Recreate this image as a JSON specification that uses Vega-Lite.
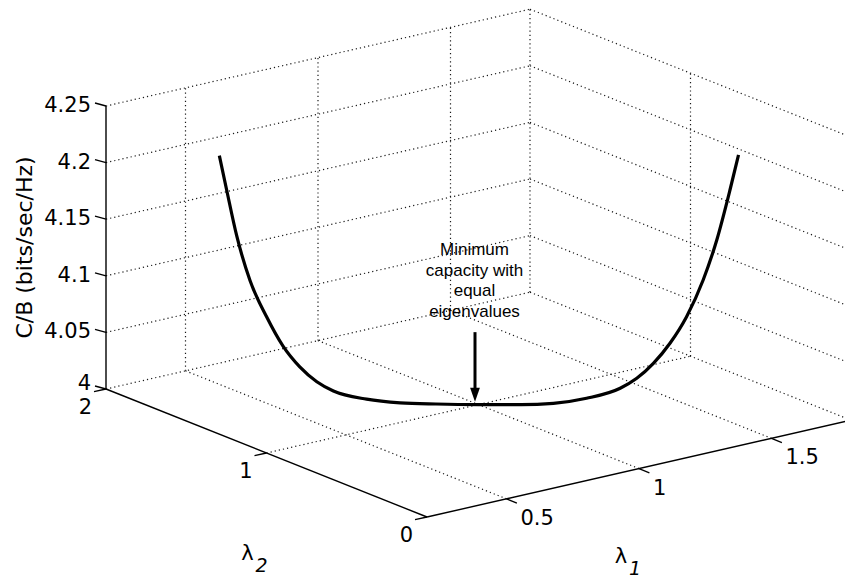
{
  "$schema": "https://vega.github.io/schema/vega-lite/v6.json",
  "width": 845,
  "height": 580,
  "padding": 0,
  "autosize": {"type": "none"},
  "background": "white",
  "config": {"view": {"stroke": null}},
  "datasets": {
    "segs": [
      {"k": "g", "a1": 0.5, "a2": 0, "az": 4, "b1": 0.5, "b2": 2, "bz": 4},
      {"k": "g", "a1": 1, "a2": 0, "az": 4, "b1": 1, "b2": 2, "bz": 4},
      {"k": "g", "a1": 1.5, "a2": 0, "az": 4, "b1": 1.5, "b2": 2, "bz": 4},
      {"k": "g", "a1": 0.2, "a2": 1, "az": 4, "b1": 1.8, "b2": 1, "bz": 4},
      {"k": "g", "a1": 0.2, "a2": 2, "az": 4, "b1": 1.8, "b2": 2, "bz": 4},
      {"k": "g", "a1": 0.2, "a2": 2, "az": 4.05, "b1": 1.8, "b2": 2, "bz": 4.05},
      {"k": "g", "a1": 0.2, "a2": 2, "az": 4.1, "b1": 1.8, "b2": 2, "bz": 4.1},
      {"k": "g", "a1": 0.2, "a2": 2, "az": 4.15, "b1": 1.8, "b2": 2, "bz": 4.15},
      {"k": "g", "a1": 0.2, "a2": 2, "az": 4.2, "b1": 1.8, "b2": 2, "bz": 4.2},
      {"k": "g", "a1": 0.2, "a2": 2, "az": 4.25, "b1": 1.8, "b2": 2, "bz": 4.25},
      {"k": "g", "a1": 0.5, "a2": 2, "az": 4, "b1": 0.5, "b2": 2, "bz": 4.25},
      {"k": "g", "a1": 1, "a2": 2, "az": 4, "b1": 1, "b2": 2, "bz": 4.25},
      {"k": "g", "a1": 1.5, "a2": 2, "az": 4, "b1": 1.5, "b2": 2, "bz": 4.25},
      {"k": "g", "a1": 1.8, "a2": 2, "az": 4, "b1": 1.8, "b2": 0, "bz": 4},
      {"k": "g", "a1": 1.8, "a2": 2, "az": 4.05, "b1": 1.8, "b2": 0, "bz": 4.05},
      {"k": "g", "a1": 1.8, "a2": 2, "az": 4.1, "b1": 1.8, "b2": 0, "bz": 4.1},
      {"k": "g", "a1": 1.8, "a2": 2, "az": 4.15, "b1": 1.8, "b2": 0, "bz": 4.15},
      {"k": "g", "a1": 1.8, "a2": 2, "az": 4.2, "b1": 1.8, "b2": 0, "bz": 4.2},
      {"k": "g", "a1": 1.8, "a2": 2, "az": 4.25, "b1": 1.8, "b2": 0, "bz": 4.25},
      {"k": "g", "a1": 1.8, "a2": 0, "az": 4, "b1": 1.8, "b2": 0, "bz": 4.25},
      {"k": "g", "a1": 1.8, "a2": 1, "az": 4, "b1": 1.8, "b2": 1, "bz": 4.25},
      {"k": "g", "a1": 1.8, "a2": 2, "az": 4, "b1": 1.8, "b2": 2, "bz": 4.25},
      {"k": "a", "a1": 0.2, "a2": 2, "az": 4, "b1": 0.2, "b2": 2, "bz": 4.25},
      {"k": "a", "a1": 0.2, "a2": 2, "az": 4, "b1": 0.2, "b2": 0, "bz": 4},
      {"k": "a", "a1": 0.2, "a2": 0, "az": 4, "b1": 1.8, "b2": 0, "bz": 4}
    ],
    "ticks": [
      {"ax": "z", "l1": 0.2, "l2": 2, "z": 4, "t": "4"},
      {"ax": "z", "l1": 0.2, "l2": 2, "z": 4.05, "t": "4.05"},
      {"ax": "z", "l1": 0.2, "l2": 2, "z": 4.1, "t": "4.1"},
      {"ax": "z", "l1": 0.2, "l2": 2, "z": 4.15, "t": "4.15"},
      {"ax": "z", "l1": 0.2, "l2": 2, "z": 4.2, "t": "4.2"},
      {"ax": "z", "l1": 0.2, "l2": 2, "z": 4.25, "t": "4.25"},
      {"ax": "y", "l1": 0.2, "l2": 0, "z": 4, "t": "0"},
      {"ax": "y", "l1": 0.2, "l2": 1, "z": 4, "t": "1"},
      {"ax": "y", "l1": 0.2, "l2": 2, "z": 4, "t": "2"},
      {"ax": "x", "l1": 0.5, "l2": 0, "z": 4, "t": "0.5"},
      {"ax": "x", "l1": 1, "l2": 0, "z": 4, "t": "1"},
      {"ax": "x", "l1": 1.5, "l2": 0, "z": 4, "t": "1.5"}
    ],
    "curve": [
      {"l1": 0.391, "l2": 1.609, "c": 4.218},
      {"l1": 0.408, "l2": 1.592, "c": 4.188},
      {"l1": 0.432, "l2": 1.568, "c": 4.147},
      {"l1": 0.463, "l2": 1.537, "c": 4.108},
      {"l1": 0.502, "l2": 1.498, "c": 4.076},
      {"l1": 0.541, "l2": 1.459, "c": 4.05},
      {"l1": 0.58, "l2": 1.42, "c": 4.032},
      {"l1": 0.62, "l2": 1.38, "c": 4.019},
      {"l1": 0.659, "l2": 1.341, "c": 4.011},
      {"l1": 0.737, "l2": 1.263, "c": 4.004},
      {"l1": 0.816, "l2": 1.184, "c": 4.001},
      {"l1": 0.9, "l2": 1.1, "c": 4.0002},
      {"l1": 1.0, "l2": 1.0, "c": 4.0},
      {"l1": 1.1, "l2": 0.9, "c": 4.0003},
      {"l1": 1.176, "l2": 0.824, "c": 4.0017},
      {"l1": 1.254, "l2": 0.746, "c": 4.0064},
      {"l1": 1.333, "l2": 0.667, "c": 4.0155},
      {"l1": 1.372, "l2": 0.628, "c": 4.0244},
      {"l1": 1.411, "l2": 0.589, "c": 4.0377},
      {"l1": 1.45, "l2": 0.55, "c": 4.0556},
      {"l1": 1.489, "l2": 0.511, "c": 4.0792},
      {"l1": 1.528, "l2": 0.472, "c": 4.1117},
      {"l1": 1.56, "l2": 0.44, "c": 4.1472},
      {"l1": 1.591, "l2": 0.409, "c": 4.1914},
      {"l1": 1.611, "l2": 0.389, "c": 4.2224}
    ],
    "notes": [
      {"id": "note", "l1": 1, "l2": 1, "z": 4.132, "t": "Minimum\ncapacity with\nequal\neigenvalues"},
      {"id": "x", "l1": 1, "l2": 0, "z": 4, "t": "λ"},
      {"id": "xs", "l1": 1, "l2": 0, "z": 4, "t": "1"},
      {"id": "y", "l1": 0.2, "l2": 1, "z": 4, "t": "λ"},
      {"id": "ys", "l1": 0.2, "l2": 1, "z": 4, "t": "2"},
      {"id": "zt", "l1": 0.2, "l2": 2, "z": 4.125, "t": "C/B (bits/sec/Hz)"}
    ],
    "arrow": [
      {"l1": 1, "l2": 1, "ztop": 4.064, "zend": 4.008, "ztip": 4.0025}
    ]
  },
  "layer": [
    {
      "data": {"name": "segs"},
      "transform": [
        {"calculate": "374 + 265*datum.a1 - 160.5*datum.a2", "as": "xa"},
        {"calculate": "529.1 - 60.5*datum.a1 - 64*datum.a2 - 1132*(datum.az-4)", "as": "ya"},
        {"calculate": "374 + 265*datum.b1 - 160.5*datum.b2", "as": "xb"},
        {"calculate": "529.1 - 60.5*datum.b1 - 64*datum.b2 - 1132*(datum.bz-4)", "as": "yb"}
      ],
      "encoding": {
        "x": {"field": "xa", "type": "quantitative", "scale": {"domain": [0, 845], "nice": false, "zero": false}, "axis": null},
        "y": {"field": "ya", "type": "quantitative", "scale": {"domain": [0, 580], "nice": false, "zero": false, "reverse": true}, "axis": null},
        "x2": {"field": "xb"},
        "y2": {"field": "yb"}
      },
      "layer": [
        {
          "transform": [{"filter": "datum.k == 'g'"}],
          "mark": {"type": "rule", "stroke": "#1a1a1a", "strokeWidth": 1.2, "strokeDash": [1.2, 3], "clip": true}
        },
        {
          "transform": [{"filter": "datum.k == 'a'"}],
          "mark": {"type": "rule", "stroke": "#000000", "strokeWidth": 1.4, "clip": true}
        }
      ]
    },
    {
      "data": {"name": "ticks"},
      "transform": [
        {"calculate": "374 + 265*datum.l1 - 160.5*datum.l2", "as": "px"},
        {"calculate": "529.1 - 60.5*datum.l1 - 64*datum.l2 - 1132*(datum.z-4)", "as": "py"}
      ],
      "encoding": {
        "x": {"field": "px", "type": "quantitative", "scale": {"domain": [0, 845], "nice": false, "zero": false}, "axis": null},
        "y": {"field": "py", "type": "quantitative", "scale": {"domain": [0, 580], "nice": false, "zero": false, "reverse": true}, "axis": null}
      },
      "layer": [
        {
          "transform": [{"filter": "datum.ax == 'z'"}],
          "mark": {"type": "rule", "stroke": "#000000", "strokeWidth": 1.3, "x2Offset": -11, "y2Offset": -3},
          "encoding": {"x2": {"field": "px"}, "y2": {"field": "py"}}
        },
        {
          "transform": [{"filter": "datum.ax == 'y'"}],
          "mark": {"type": "rule", "stroke": "#000000", "strokeWidth": 1.3, "x2Offset": -12, "y2Offset": 2.7},
          "encoding": {"x2": {"field": "px"}, "y2": {"field": "py"}}
        },
        {
          "transform": [{"filter": "datum.ax == 'x'"}],
          "mark": {"type": "rule", "stroke": "#000000", "strokeWidth": 1.3, "x2Offset": 10.4, "y2Offset": 4.2},
          "encoding": {"x2": {"field": "px"}, "y2": {"field": "py"}}
        },
        {
          "transform": [{"filter": "datum.ax == 'z' && datum.z > 4.01"}],
          "mark": {"type": "text", "font": "DejaVu Sans", "fontSize": 21, "align": "right", "baseline": "middle", "dx": -15, "color": "#000000"},
          "encoding": {"text": {"field": "t"}}
        },
        {
          "transform": [{"filter": "datum.ax == 'z' && datum.z < 4.01"}],
          "mark": {"type": "text", "font": "DejaVu Sans", "fontSize": 21, "align": "right", "baseline": "middle", "dx": -15, "dy": -5, "color": "#000000"},
          "encoding": {"text": {"field": "t"}}
        },
        {
          "transform": [{"filter": "datum.ax == 'y'"}],
          "mark": {"type": "text", "font": "DejaVu Sans", "fontSize": 21, "align": "right", "baseline": "middle", "dx": -14, "dy": 19, "color": "#000000"},
          "encoding": {"text": {"field": "t"}}
        },
        {
          "transform": [{"filter": "datum.ax == 'x'"}],
          "mark": {"type": "text", "font": "DejaVu Sans", "fontSize": 21, "align": "left", "baseline": "middle", "dx": 14, "dy": 20, "color": "#000000"},
          "encoding": {"text": {"field": "t"}}
        }
      ]
    },
    {
      "data": {"name": "curve"},
      "transform": [
        {"calculate": "374 + 265*datum.l1 - 160.5*datum.l2", "as": "px"},
        {"calculate": "529.1 - 60.5*datum.l1 - 64*datum.l2 - 1132*(datum.c-4)", "as": "py"}
      ],
      "mark": {"type": "line", "stroke": "#000000", "strokeWidth": 3.2, "interpolate": "monotone", "strokeCap": "butt"},
      "encoding": {
        "x": {"field": "px", "type": "quantitative", "scale": {"domain": [0, 845], "nice": false, "zero": false}, "axis": null},
        "y": {"field": "py", "type": "quantitative", "scale": {"domain": [0, 580], "nice": false, "zero": false, "reverse": true}, "axis": null},
        "order": {"field": "l1", "type": "quantitative"}
      }
    },
    {
      "data": {"name": "arrow"},
      "transform": [
        {"calculate": "374 + 265*datum.l1 - 160.5*datum.l2", "as": "px"},
        {"calculate": "529.1 - 60.5*datum.l1 - 64*datum.l2 - 1132*(datum.ztop-4)", "as": "ytop"},
        {"calculate": "529.1 - 60.5*datum.l1 - 64*datum.l2 - 1132*(datum.zend-4)", "as": "yend"},
        {"calculate": "529.1 - 60.5*datum.l1 - 64*datum.l2 - 1132*(datum.ztip-4)", "as": "ytip"}
      ],
      "encoding": {
        "x": {"field": "px", "type": "quantitative", "scale": {"domain": [0, 845], "nice": false, "zero": false}, "axis": null}
      },
      "layer": [
        {
          "mark": {"type": "rule", "stroke": "#000000", "strokeWidth": 3, "xOffset": -3.5},
          "encoding": {
            "y": {"field": "ytop", "type": "quantitative", "scale": {"domain": [0, 580], "nice": false, "zero": false, "reverse": true}, "axis": null},
            "y2": {"field": "yend"}
          }
        },
        {
          "mark": {"type": "point", "shape": "M-0.7,-2L0.7,-2L0,0Z", "filled": true, "color": "#000000", "opacity": 1, "size": 196, "xOffset": -3.5},
          "encoding": {
            "y": {"field": "ytip", "type": "quantitative", "scale": {"domain": [0, 580], "nice": false, "zero": false, "reverse": true}, "axis": null}
          }
        }
      ]
    },
    {
      "data": {"name": "notes"},
      "transform": [
        {"calculate": "374 + 265*datum.l1 - 160.5*datum.l2", "as": "px"},
        {"calculate": "529.1 - 60.5*datum.l1 - 64*datum.l2 - 1132*(datum.z-4)", "as": "py"}
      ],
      "encoding": {
        "x": {"field": "px", "type": "quantitative", "scale": {"domain": [0, 845], "nice": false, "zero": false}, "axis": null},
        "y": {"field": "py", "type": "quantitative", "scale": {"domain": [0, 580], "nice": false, "zero": false, "reverse": true}, "axis": null},
        "text": {"field": "t"}
      },
      "layer": [
        {
          "transform": [{"filter": "datum.id == 'note'"}],
          "mark": {"type": "text", "font": "Liberation Sans", "fontSize": 17, "align": "center", "baseline": "alphabetic", "lineBreak": "\n", "lineHeight": 20.5, "dx": -4, "color": "#000000"}
        },
        {
          "transform": [{"filter": "datum.id == 'x'"}],
          "mark": {"type": "text", "font": "DejaVu Sans", "fontSize": 21, "align": "center", "baseline": "alphabetic", "dx": -18, "dy": 94, "color": "#000000"}
        },
        {
          "transform": [{"filter": "datum.id == 'xs'"}],
          "mark": {"type": "text", "font": "DejaVu Sans", "fontSize": 19, "fontStyle": "italic", "align": "center", "baseline": "alphabetic", "dx": -4, "dy": 106, "color": "#000000"}
        },
        {
          "transform": [{"filter": "datum.id == 'y'"}],
          "mark": {"type": "text", "font": "DejaVu Sans", "fontSize": 21, "align": "center", "baseline": "alphabetic", "dx": -19, "dy": 107, "color": "#000000"}
        },
        {
          "transform": [{"filter": "datum.id == 'ys'"}],
          "mark": {"type": "text", "font": "DejaVu Sans", "fontSize": 19, "fontStyle": "italic", "align": "center", "baseline": "alphabetic", "dx": -5, "dy": 119, "color": "#000000"}
        },
        {
          "transform": [{"filter": "datum.id == 'zt'"}],
          "mark": {"type": "text", "font": "DejaVu Sans", "fontSize": 22, "align": "center", "baseline": "middle", "angle": 270, "dy": -81, "color": "#000000"}
        }
      ]
    }
  ]
}
